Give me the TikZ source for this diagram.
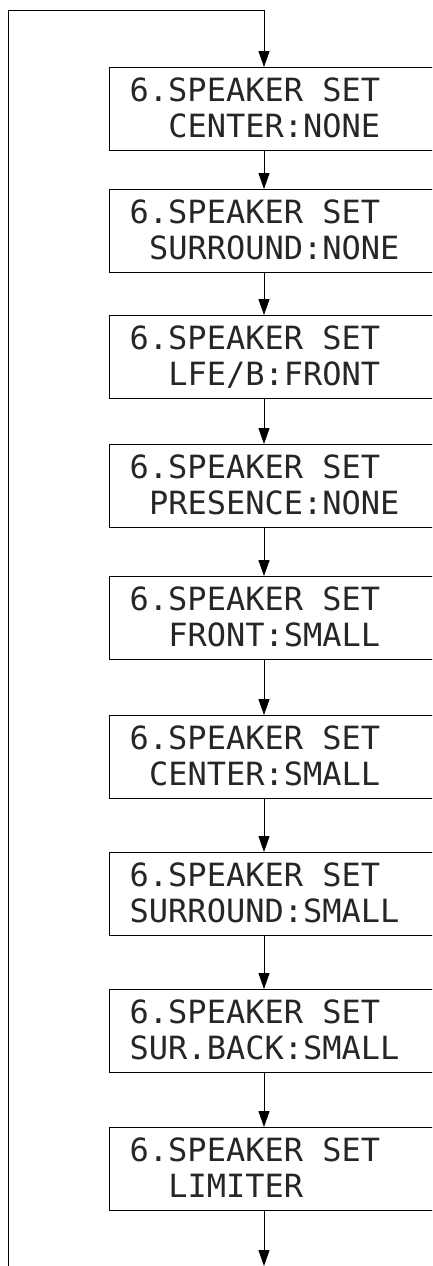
\documentclass[tikz,border=0pt]{standalone}
\usepackage{fontspec}
\newfontfamily\lcdfont{DejaVu Sans Mono}
\usetikzlibrary{arrows.meta}
\tikzset{
  lcdbox/.style={draw, line width=1pt, rectangle, anchor=north west, minimum width=331pt, minimum height=83pt, inner sep=0pt},
  lcdtext/.style={anchor=base west, inner sep=0pt, font=\lcdfont\fontsize{32}{36}\selectfont, text=black!85},
  flow/.style={line width=1pt, -{Triangle[length=16pt,width=11pt]}},
}
\begin{document}
\begin{tikzpicture}[x=1pt,y=-1pt]
\useasboundingbox (0,0) rectangle (432,1266);
\clip (0,0) rectangle (432,1266);
\coordinate (ax) at (264,0);
\foreach \i/\top/\col/\txt in {
  1/67/2/{CENTER:NONE},
  2/189/1/{SURROUND:NONE},
  3/315/2/{LFE/B:FRONT},
  4/444/1/{PRESENCE:NONE},
  5/576/2/{FRONT:SMALL},
  6/715/1/{CENTER:SMALL},
  7/852/0/{SURROUND:SMALL},
  8/989/0/{SUR.BACK:SMALL},
  9/1127/2/{LIMITER}}{
  \node[lcdbox] (b\i) at (109,\top) {};
  \node[lcdtext] (l\i) at ([xshift=20.5pt,yshift=-34pt]b\i.north west) {6.SPEAKER SET};
  \node[lcdtext] (m\i) at ([xshift=20.5pt+\col*19.3pt,yshift=-70pt]b\i.north west) {\txt};
}
\foreach \a/\b in {1/2,2/3,3/4,4/5,5/6,6/7,7/8,8/9}{
  \draw[flow] (b\a.south -| ax) -- (b\b.north -| ax);
}
\coordinate (endb) at (264,1266);
\coordinate (loopb) at (8,1266);
\coordinate (loopt) at (8,10);
\draw[flow] (b9.south -| ax) -- (endb);
\draw[flow] (loopb) -- (loopt) -| (b1.north -| ax);
\end{tikzpicture}
\end{document}
